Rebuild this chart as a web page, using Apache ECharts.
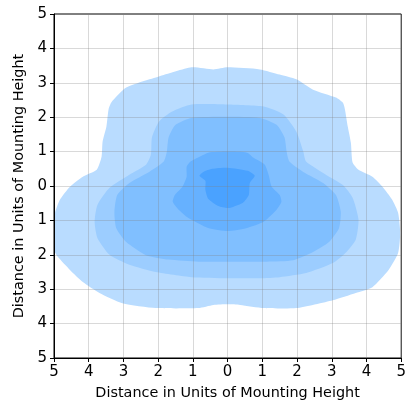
<!DOCTYPE html>
<html>
<head>
<meta charset="utf-8">
<script src="https://cdn.jsdelivr.net/npm/echarts@6/dist/echarts.min.js"></script>
<style>
html,body{margin:0;padding:0;background:#fff;}
#chart{width:409px;height:405px;}
</style>
</head>
<body>
<div id="chart"></div>
<script>
// Axis ticks
const xTicks = [-5,-4,-3,-2,-1,0,1,2,3,4,5];
const yTicks = [-5,-4,-3,-2,-1,0,1,2,3,4,5];
const axisTitle = 'Distance in Units of Mounting Height';

// Filled contour levels (outermost to innermost), vertices in data units
const level1 = [
  [0,3.45],[0.93,3.39],[1.50,3.24],[1.98,3.10],[2.46,2.80],[3.12,2.57],[3.32,2.42],[3.38,2.22],
  [3.46,1.73],[3.55,1.26],[3.60,0.68],[3.77,0.47],[4.17,0.27],[4.46,-0.02],[4.74,-0.40],[4.91,-0.78],
  [4.97,-1.36],[4.91,-1.95],[4.63,-2.45],[4.17,-2.94],[3.69,-3.11],[3.03,-3.32],[1.98,-3.55],[1.04,-3.55],
  [0.36,-3.46],[0,-3.44],[-0.41,-3.46],[-0.84,-3.55],[-2.07,-3.55],[-3.03,-3.41],[-3.69,-3.11],[-4.17,-2.79],
  [-4.54,-2.44],[-4.89,-2.06],[-5.0,-1.86],[-5.0,-1.28],[-4.97,-0.78],[-4.83,-0.40],[-4.54,-0.02],[-4.17,0.27],
  [-3.77,0.47],[-3.63,0.85],[-3.60,1.29],[-3.49,1.73],[-3.43,2.22],[-3.35,2.43],[-2.92,2.86],[-1.98,3.18],
  [-1.04,3.45],[-0.41,3.39]
];
const level2 = [
  [0,2.37],[1.04,2.31],[1.61,2.08],[1.98,1.58],[2.18,1.00],[2.26,0.71],[2.83,0.33],[3.32,0.03],
  [3.60,-0.34],[3.77,-0.98],[3.69,-1.56],[3.40,-1.94],[3.03,-2.24],[2.26,-2.53],[1.50,-2.65],[0.93,-2.68],
  [0,-2.68],[-1.04,-2.65],[-2.07,-2.50],[-2.83,-2.29],[-3.40,-2.00],[-3.75,-1.51],[-3.83,-1.04],[-3.75,-0.55],
  [-3.40,-0.05],[-2.83,0.33],[-2.35,0.62],[-2.21,0.91],[-2.18,1.41],[-1.98,1.87],[-1.61,2.16],[-1.04,2.37]
];
const level3 = [
  [0,2.01],[0.93,1.98],[1.41,1.78],[1.64,1.41],[1.70,1.00],[1.78,0.71],[2.18,0.41],[2.75,0.09],
  [3.12,-0.26],[3.26,-0.75],[3.21,-1.22],[2.92,-1.63],[2.46,-1.92],[1.89,-2.16],[1.13,-2.20],[0,-2.20],
  [-0.84,-2.20],[-1.70,-2.14],[-2.35,-2.01],[-2.92,-1.63],[-3.21,-1.22],[-3.26,-0.75],[-3.18,-0.26],[-2.83,0.09],
  [-2.26,0.41],[-1.84,0.71],[-1.75,1.00],[-1.70,1.41],[-1.50,1.78],[-1.04,1.98]
];
const level4 = [
  [0,1.00],[0.56,0.97],[0.75,0.82],[1.07,0.62],[1.18,0.33],[1.27,-0.02],[1.50,-0.26],[1.55,-0.46],
  [1.41,-0.69],[1.04,-1.04],[0.56,-1.22],[0,-1.31],[-0.56,-1.22],[-1.13,-0.93],[-1.41,-0.69],[-1.58,-0.46],
  [-1.52,-0.26],[-1.30,-0.02],[-1.18,0.27],[-1.18,0.56],[-1.07,0.71],[-0.75,0.88],[-0.56,0.97]
];
const level5 = [
  [0,0.53],[0.58,0.44],[0.78,0.30],[0.64,0.09],[0.61,-0.26],[0.44,-0.49],[0.16,-0.61],[0,-0.64],
  [-0.27,-0.58],[-0.56,-0.37],[-0.64,-0.11],[-0.64,0.15],[-0.81,0.30],[-0.70,0.41],[-0.44,0.50]
];
const levels = [level1, level2, level3, level4, level5];
const levelColors = ['#b9dcff', '#9ccdff', '#80bfff', '#66b1ff', '#4aa2ff'];

const FONT = 'DejaVu Sans';
const chart = echarts.init(document.getElementById('chart'), null, {renderer: 'canvas'});

function makeSeries(pts, color, idx) {
  return {
    type: 'custom',
    name: 'level' + (idx + 1),
    clip: true,
    z: 2,
    data: pts,
    encode: {x: 0, y: 1},
    renderItem: function (params, api) {
      if (params.dataIndex !== 0) return null;
      const points = pts.map(function (p) { return api.coord(p); });
      return {
        type: 'polygon',
        shape: {points: points, smooth: 0.2},
        style: {fill: color, stroke: null}
      };
    },
    silent: true,
    animation: false
  };
}

const axisCommon = {
  type: 'value',
  min: xTicks[0],
  max: xTicks[xTicks.length - 1],
  interval: 1,
  z: 10,
  axisLine: {show: true, onZero: false, lineStyle: {color: '#000', width: 1}},
  axisTick: {show: true, length: 4, lineStyle: {color: '#000', width: 1}},
  axisLabel: {
    color: '#000', fontFamily: FONT, fontSize: 15, margin: 7,
    formatter: function (v) { return String(Math.abs(v)); }
  },
  splitLine: {show: true, lineStyle: {color: 'rgba(128,128,128,0.3)', width: 1}},
  name: axisTitle,
  nameLocation: 'middle',
  nameTextStyle: {color: '#000', fontFamily: FONT, fontSize: 14.4}
};

const option = {
  animation: false,
  backgroundColor: '#fff',
  grid: {left: 54, right: 4, top: 14, bottom: 47, show: true, borderColor: '#000', borderWidth: 1, backgroundColor: 'transparent'},
  xAxis: Object.assign({}, axisCommon, {nameGap: 28}),
  yAxis: Object.assign({}, axisCommon, {min: yTicks[0], max: yTicks[yTicks.length - 1], nameGap: 27, nameRotate: 90}),
  series: levels.map(function (pts, i) { return makeSeries(pts, levelColors[i], i); })
};
chart.setOption(option);
</script>
</body>
</html>
